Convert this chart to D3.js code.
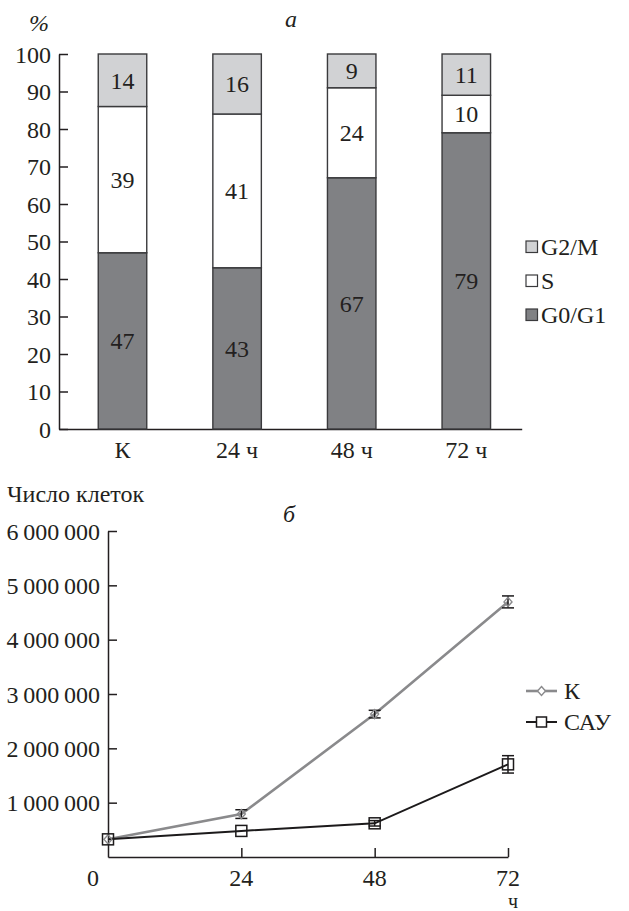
<!DOCTYPE html>
<html>
<head>
<meta charset="utf-8">
<script src="https://cdn.jsdelivr.net/npm/d3@7"></script>
<style>
  html, body { margin: 0; padding: 0; background: #fff; }
  svg text { font-family: "Liberation Serif", "Times New Roman", Tinos, "DejaVu Serif", serif !important; fill: #231f20; }
</style>
</head>
<body>
<svg id="chart" width="629" height="911"></svg>
<script>
// ---------- Data: panel а ----------
const categories = ["К", "24 ч", "48 ч", "72 ч"];
const phases = ["G0/G1", "S", "G2/M"];
const g0g1 = [47, 43, 67, 79];
const sPhase = [39, 41, 24, 10];
const g2m = [14, 16, 9, 11];
const pctTicks = [0, 10, 20, 30, 40, 50, 60, 70, 80, 90, 100];

// ---------- Data: panel б ----------
const hours = [0, 24, 48, 72];
const hourTicks = [0, 24, 48, 72];
const kValues = [325000, 790000, 2630000, 4695000];
const kErrors = [0, 80000, 70000, 110000];
const cayValues = [325000, 480000, 620000, 1705000];
const cayErrors = [0, 0, 50000, 160000];
const cellTicks = [1000000, 2000000, 3000000, 4000000, 5000000, 6000000];

const SERIF = "'Liberation Serif', 'Times New Roman', Tinos, 'DejaVu Serif', serif";
const svg = d3.select("#chart").attr("font-family", SERIF);
const FS = 24;
const ink = "#231f20";

// ======== Panel а ========
const phaseColor = { "G0/G1": "#808184", "S": "#ffffff", "G2/M": "#d1d2d4" };

const yA = d3.scaleLinear().domain([0, 100]).range([429, 54]);
const xA = d3.scalePoint().domain(categories).range([122.5, 466.3]);
const barW = 48.5;
const axisAx = 59;

const gA = svg.append("g");
const yAxisA = d3.axisLeft(yA).tickValues(pctTicks).tickSizeInner(-9).tickSizeOuter(0).tickPadding(8);
gA.append("g").attr("transform", `translate(${axisAx},0)`).call(yAxisA)
  .attr("font-family", SERIF)
  .call(g => {
    g.select(".domain").attr("stroke", ink).attr("stroke-width", 1.5);
    g.selectAll(".tick line").attr("stroke", ink).attr("stroke-width", 1.5);
    g.selectAll(".tick text").attr("font-size", FS).attr("fill", ink).attr("dy", "0.34em");
  });

const xAxisA = d3.axisBottom(d3.scaleLinear().domain([0, 1]).range([axisAx, 521.7])).tickValues([]).tickSizeOuter(0);
gA.append("g").attr("transform", `translate(0,${yA(0)})`).call(xAxisA)
  .call(g => g.select(".domain").attr("stroke", ink).attr("stroke-width", 1.5));

const stackData = categories.map((c, i) => ({ cat: c, "G0/G1": g0g1[i], "S": sPhase[i], "G2/M": g2m[i] }));
const stacked = d3.stack().keys(phases)(stackData);
stacked.forEach(layer => {
  const key = layer.key;
  gA.append("g").selectAll("rect").data(layer).join("rect")
    .attr("x", d => xA(d.data.cat) - barW / 2)
    .attr("y", d => yA(d[1]))
    .attr("width", barW)
    .attr("height", d => yA(d[0]) - yA(d[1]))
    .attr("fill", phaseColor[key])
    .attr("stroke", "#3a3a3c")
    .attr("stroke-width", 1.4);
  gA.append("g").selectAll("text").data(layer).join("text")
    .attr("x", d => xA(d.data.cat))
    .attr("y", d => yA((d[0] + d[1]) / 2))
    .attr("dy", "0.35em")
    .attr("text-anchor", "middle")
    .attr("font-size", FS)
    .text(d => d.data[key]);
});

gA.append("g").selectAll("text").data(categories).join("text")
  .attr("x", d => xA(d)).attr("y", 458)
  .attr("text-anchor", "middle").attr("font-size", FS)
  .text(d => d);

gA.append("text").attr("x", 39).attr("y", 31).attr("text-anchor", "middle")
  .attr("font-size", FS).attr("font-style", "italic").text("%");
gA.append("text").attr("x", 291).attr("y", 27).attr("text-anchor", "middle")
  .attr("font-size", FS).attr("font-style", "italic").text("а");

const legA = gA.append("g");
const legOrder = ["G2/M", "S", "G0/G1"];
const legY = d3.scalePoint().domain(legOrder).range([247, 315]);
legOrder.forEach(k => {
  legA.append("rect").attr("x", 526).attr("y", legY(k) - 6).attr("width", 11.5).attr("height", 11.5)
    .attr("fill", phaseColor[k]).attr("stroke", "#3a3a3c").attr("stroke-width", 1.2);
  legA.append("text").attr("x", 541).attr("y", legY(k)).attr("dy", "0.35em")
    .attr("font-size", FS).text(k);
});

// ======== Panel б ========
const yB = d3.scaleLinear().domain([0, 6000000]).range([857, 531]);
const xB = d3.scaleLinear().domain([0, 72]).range([108, 508]);
const fmt = v => d3.format(",")(v).replace(/,/g, "\u2009");

const gB = svg.append("g");
const yAxisB = d3.axisLeft(yB).tickValues(cellTicks).tickFormat(fmt).tickSizeInner(-9).tickSizeOuter(0).tickPadding(8);
gB.append("g").attr("transform", `translate(${xB(0)},0)`).call(yAxisB)
  .attr("font-family", SERIF)
  .call(g => {
    g.select(".domain").attr("stroke", ink).attr("stroke-width", 1.5);
    g.selectAll(".tick line").attr("stroke", ink).attr("stroke-width", 1.5);
    g.selectAll(".tick text").attr("font-size", FS).attr("fill", ink).attr("dy", "0.34em");
  });

const xAxisB = d3.axisTop(xB).tickValues(hourTicks.filter(h => h > 0)).tickSizeInner(9).tickSizeOuter(0).tickFormat("");
gB.append("g").attr("transform", `translate(0,${yB(0)})`).call(xAxisB)
  .call(g => {
    g.select(".domain").attr("stroke", ink).attr("stroke-width", 1.5);
    g.selectAll(".tick line").attr("stroke", ink).attr("stroke-width", 1.5);
  });
gB.append("g").selectAll("text").data(hourTicks).join("text")
  .attr("x", d => d === 0 ? xB(d) - 15 : xB(d))
  .attr("y", 886).attr("text-anchor", "middle").attr("font-size", FS)
  .text(d => d);
gB.append("text").attr("x", xB(72) + 5).attr("y", 908).attr("text-anchor", "middle")
  .attr("font-size", 20).text("ч");

gB.append("text").attr("x", 7).attr("y", 502).attr("font-size", FS).text("Число клеток");
gB.append("text").attr("x", 289).attr("y", 522).attr("text-anchor", "middle")
  .attr("font-size", FS).attr("font-style", "italic").text("б");

const kData = hours.map((h, i) => ({ h, v: kValues[i], e: kErrors[i] }));
const cayData = hours.map((h, i) => ({ h, v: cayValues[i], e: cayErrors[i] }));
const line = d3.line().x(d => xB(d.h)).y(d => yB(d.v));

const kColor = "#8a8a8c", cayColor = "#1c1a1b";

gB.append("path").datum(kData).attr("d", line).attr("fill", "none")
  .attr("stroke", kColor).attr("stroke-width", 2.6);
gB.append("path").datum(cayData).attr("d", line).attr("fill", "none")
  .attr("stroke", cayColor).attr("stroke-width", 2);

function errorBars(data) {
  const g = gB.append("g").attr("stroke", cayColor).attr("stroke-width", 1.5);
  data.filter(d => d.e > 0).forEach(d => {
    const x = xB(d.h);
    g.append("line").attr("x1", x).attr("x2", x).attr("y1", yB(d.v - d.e)).attr("y2", yB(d.v + d.e));
    g.append("line").attr("x1", x - 6).attr("x2", x + 6).attr("y1", yB(d.v - d.e)).attr("y2", yB(d.v - d.e));
    g.append("line").attr("x1", x - 6).attr("x2", x + 6).attr("y1", yB(d.v + d.e)).attr("y2", yB(d.v + d.e));
  });
}
errorBars(kData);
errorBars(cayData);

const diamond = "M0,-4.5L4,0L0,4.5L-4,0Z";
gB.append("g").selectAll("path").data(kData).join("path")
  .attr("transform", d => `translate(${xB(d.h)},${yB(d.v)})`)
  .attr("d", diamond).attr("fill", "none").attr("stroke", kColor).attr("stroke-width", 1.4);
gB.append("g").selectAll("rect").data(cayData).join("rect")
  .attr("x", d => xB(d.h) - 5.5).attr("y", d => yB(d.v) - 5.5)
  .attr("width", 11).attr("height", 11)
  .attr("fill", "none").attr("stroke", cayColor).attr("stroke-width", 1.5);

const legB = gB.append("g");
const seriesNames = ["К", "САУ"];
const legYB = d3.scalePoint().domain(seriesNames).range([691, 722]);
legB.append("line").attr("x1", 526).attr("x2", 557).attr("y1", legYB("К")).attr("y2", legYB("К"))
  .attr("stroke", kColor).attr("stroke-width", 2.6);
legB.append("path").attr("transform", `translate(541.5,${legYB("К")})`).attr("d", diamond)
  .attr("fill", "#fff").attr("stroke", kColor).attr("stroke-width", 1.4);
legB.append("line").attr("x1", 526).attr("x2", 557).attr("y1", legYB("САУ")).attr("y2", legYB("САУ"))
  .attr("stroke", cayColor).attr("stroke-width", 2);
legB.append("rect").attr("x", 536.5).attr("y", legYB("САУ") - 5).attr("width", 10).attr("height", 10)
  .attr("fill", "#fff").attr("stroke", cayColor).attr("stroke-width", 1.5);
seriesNames.forEach(n => {
  legB.append("text").attr("x", 564).attr("y", legYB(n)).attr("dy", "0.35em")
    .attr("font-size", FS).text(n);
});
</script>
</body>
</html>
